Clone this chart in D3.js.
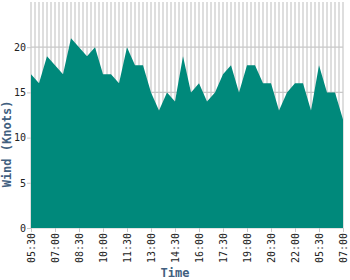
<!DOCTYPE html>
<html>
<head>
<meta charset="utf-8">
<script src="https://cdn.jsdelivr.net/npm/d3@7"></script>
<style>
  body { margin: 0; background: #fff; }
  text { font-family: "DejaVu Sans Mono", monospace; }
</style>
</head>
<body>
<script>
// Time of each reading (30 min steps, with an overnight gap)
var times = ["05:30","06:00","06:30","07:00","07:30","08:00","08:30","09:00","09:30","10:00",
             "10:30","11:00","11:30","12:00","12:30","13:00","13:30","14:00","14:30","15:00",
             "15:30","16:00","16:30","17:00","17:30","18:00","18:30","19:00","19:30","20:00",
             "20:30","21:00","21:30","22:00","22:30","23:00","05:30","06:00","06:30","07:00"];

// Wind speed in knots
var wind = [17,16,19,18,17,21,20,19,20,17,
            17,16,20,18,18,15,13,15,14,19,
            15,16,14,15,17,18,15,18,18,16,
            16,13,15,16,16,13,18,15,15,12];

var yTicks = [0, 5, 10, 15, 20];

var svgWidth = 350;
var svgHeight = 280;

var margin = { top: 2, right: 7, bottom: 52, left: 31 };

var chartWidth = svgWidth - margin.left - margin.right;
var chartHeight = svgHeight - margin.top - margin.bottom;

var svg = d3.select("body")
  .append("svg")
  .attr("width", svgWidth)
  .attr("height", svgHeight);

var chartGroup = svg.append("g")
  .attr("transform", `translate(${margin.left}, ${margin.top})`);

// index based x scale so grid lines can sit between readings too
var xScale = d3.scaleLinear()
  .domain([0, times.length - 1])
  .range([0, chartWidth]);

var yScale = d3.scaleLinear()
  .domain([0, 25])
  .range([chartHeight, 0]);

// grid lines
var gridX = d3.range(0, times.length - 0.5, 0.5);
chartGroup.append("g")
  .selectAll("line")
  .data(gridX)
  .enter()
  .append("line")
  .attr("x1", d => xScale(d))
  .attr("x2", d => xScale(d))
  .attr("y1", 0)
  .attr("y2", chartHeight)
  .attr("stroke", "#c8c8c8")
  .attr("stroke-width", 1.2);

chartGroup.append("g")
  .selectAll("line")
  .data(yTicks)
  .enter()
  .append("line")
  .attr("x1", 0)
  .attr("x2", chartWidth)
  .attr("y1", d => yScale(d))
  .attr("y2", d => yScale(d))
  .attr("stroke", "#c8c8c8")
  .attr("stroke-width", 1.2);

// area
var drawArea = d3.area()
  .x((d, i) => xScale(i))
  .y0(yScale(0))
  .y1(d => yScale(d));

chartGroup.append("path")
  .attr("d", drawArea(wind))
  .attr("fill", "#00897b");

// axes
var labelIdx = d3.range(0, times.length, 3);

var bottomAxis = d3.axisBottom(xScale)
  .tickValues(labelIdx)
  .tickFormat(i => times[i])
  .tickSize(4)
  .tickSizeOuter(0);

var leftAxis = d3.axisLeft(yScale)
  .tickValues(yTicks)
  .tickSize(4)
  .tickPadding(1)
  .tickSizeOuter(0);

var xAxisG = chartGroup.append("g")
  .attr("transform", `translate(0, ${chartHeight})`)
  .call(bottomAxis);

xAxisG.select(".domain").remove();
xAxisG.selectAll(".tick line").attr("stroke", "#c8c8c8");
xAxisG.selectAll(".tick text")
  .attr("transform", "rotate(-90)")
  .attr("x", -5)
  .attr("y", 0)
  .attr("dy", "0.35em")
  .style("text-anchor", "end")
  .style("font-size", "10px")
  .attr("fill", "#222");

var yAxisG = chartGroup.append("g")
  .call(leftAxis);

yAxisG.select(".domain").remove();
yAxisG.selectAll(".tick line").attr("stroke", "#c8c8c8");
yAxisG.selectAll(".tick text")
  .style("font-size", "10px")
  .attr("fill", "#222");

// axis titles
svg.append("text")
  .attr("x", svgWidth / 2)
  .attr("y", 277)
  .attr("text-anchor", "middle")
  .style("font-size", "12px")
  .style("font-weight", "bold")
  .attr("fill", "#41607f")
  .text("Time");

svg.append("text")
  .attr("transform", "translate(11, 144) rotate(-90)")
  .attr("text-anchor", "middle")
  .style("font-size", "12px")
  .style("font-weight", "bold")
  .attr("fill", "#41607f")
  .text("Wind (Knots)");
</script>
</body>
</html>
